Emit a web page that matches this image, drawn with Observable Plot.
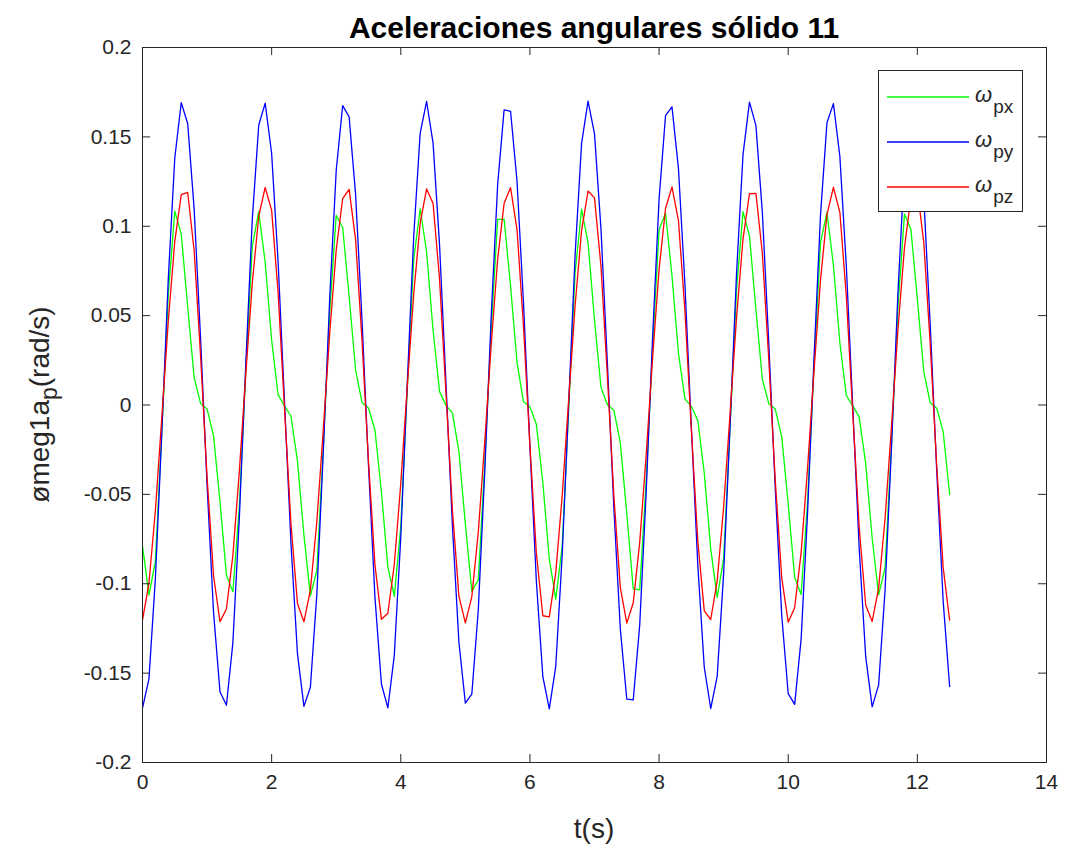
<!DOCTYPE html>
<html>
<head>
<meta charset="utf-8">
<script src="https://cdn.jsdelivr.net/npm/d3@7"></script>
<script src="https://cdn.jsdelivr.net/npm/@observablehq/plot@0.6"></script>
<style>
  html, body { margin: 0; padding: 0; background: #ffffff; }
  #chart svg { display: block; }
</style>
</head>
<body>
<div id="chart"></div>
<script>
// ---- data ----
const times = [0,0.1,0.2,0.3,0.4,0.5,0.6,0.7,0.8,0.9,1,1.1,1.2,1.3,1.4,1.5,1.6,1.7,1.8,1.9,2,2.1,2.2,2.3,2.4,2.5,2.6,2.7,2.8,2.9,3,3.1,3.2,3.3,3.4,3.5,3.6,3.7,3.8,3.9,4,4.1,4.2,4.3,4.4,4.5,4.6,4.7,4.8,4.9,5,5.1,5.2,5.3,5.4,5.5,5.6,5.7,5.8,5.9,6,6.1,6.2,6.3,6.4,6.5,6.6,6.7,6.8,6.9,7,7.1,7.2,7.3,7.4,7.5,7.6,7.7,7.8,7.9,8,8.1,8.2,8.3,8.4,8.5,8.6,8.7,8.8,8.9,9,9.1,9.2,9.3,9.4,9.5,9.6,9.7,9.8,9.9,10,10.1,10.2,10.3,10.4,10.5,10.6,10.7,10.8,10.9,11,11.1,11.2,11.3,11.4,11.5,11.6,11.7,11.8,11.9,12,12.1,12.2,12.3,12.4,12.5];

const omegaPx = [-0.0788,-0.1064,-0.0874,-0.0144,0.0621,0.1085,0.0956,
0.0548,0.0154,0.0008,-0.0022,-0.0172,-0.0540,-0.0952,-0.1044,-0.0568,0.0190,0.0888,0.1082,
0.0797,0.0362,0.0057,-0.0005,-0.0063,-0.0314,-0.0728,-0.1068,-0.0926,-0.0236,0.0523,0.1061,0.0993,
0.0607,0.0197,0.0013,-0.0017,-0.0140,-0.0487,-0.0907,-0.1070,-0.0680,0.0084,0.0814,0.1098,
0.0856,0.0418,0.0076,-0.0002,-0.0044,-0.0260,-0.0666,-0.1042,-0.0980,-0.0330,0.0424,0.1038,0.1040,
0.0665,0.0239,0.0019,-0.0011,-0.0108,-0.0434,-0.0862,-0.1086,-0.0791,-0.0022,0.0740,0.1095,0.0909,
0.0474,0.0100,0.0001,-0.0029,-0.0212,-0.0607,-0.1029,-0.1034,-0.0427,0.0324,0.0982,0.1072,
0.0723,0.0291,0.0034,-0.0008,-0.0086,-0.0381,-0.0805,-0.1078,-0.0859,-0.0119,0.0647,0.1081,0.0946,
0.0533,0.0143,0.0007,-0.0023,-0.0180,-0.0554,-0.0964,-0.1060,-0.0539,0.0218,0.0908,0.1078,
0.0782,0.0347,0.0052,-0.0005,-0.0068,-0.0328,-0.0744,-0.1062,-0.0912,-0.0212,0.0549,0.1068,0.0983,
0.0591,0.0185,0.0012,-0.0018,-0.0149,-0.0501];

const omegaPy = [-0.1696,-0.1532,-0.0968,-0.0147,0.0711,0.1382,0.1691,
0.1575,0.1096,0.0367,-0.0447,-0.1159,-0.1604,-0.1680,-0.1329,-0.0630,0.0234,0.1037,0.1565,
0.1689,0.1407,0.0801,0.0013,-0.0779,-0.1392,-0.1686,-0.1579,-0.1059,-0.0262,0.0603,0.1312,0.1675,
0.1612,0.1178,0.0473,-0.0340,-0.1076,-0.1561,-0.1694,-0.1399,-0.0738,0.0118,0.0941,0.1520,
0.1698,0.1465,0.0897,0.0122,-0.0679,-0.1326,-0.1668,-0.1618,-0.1148,-0.0377,0.0493,0.1232,0.1651,
0.1643,0.1253,0.0575,-0.0233,-0.0989,-0.1519,-0.1700,-0.1462,-0.0839,0.0002,0.0842,0.1464,0.1700,
0.1517,0.0987,0.0231,-0.0578,-0.1253,-0.1645,-0.1650,-0.1232,-0.0491,0.0380,0.1151,0.1619,
0.1668,0.1324,0.0677,-0.0125,-0.0898,-0.1467,-0.1698,-0.1518,-0.0942,-0.0115,0.0739,0.1401,0.1694,
0.1563,0.1074,0.0339,-0.0474,-0.1179,-0.1615,-0.1675,-0.1310,-0.0601,0.0265,0.1062,0.1579,
0.1686,0.1390,0.0776,-0.0016,-0.0804,-0.1408,-0.1689,-0.1567,-0.1035,-0.0232,0.0632,0.1330,0.1680,
0.1603,0.1156,0.0444,-0.0369,-0.1099,-0.1575];

const omegaPz = [-0.1203,-0.0996,-0.0589,-0.0064,0.0473,0.0915,0.1177,
0.1189,0.0863,0.0271,-0.0403,-0.0954,-0.1212,-0.1141,-0.0840,-0.0370,0.0174,0.0682,0.1056,
0.1217,0.1089,0.0630,-0.0023,-0.0669,-0.1110,-0.1213,-0.1036,-0.0652,-0.0137,0.0405,0.0866,0.1155,
0.1206,0.0925,0.0360,-0.0316,-0.0894,-0.1199,-0.1165,-0.0891,-0.0439,0.0101,0.0620,0.1017,
0.1209,0.1127,0.0706,0.0068,-0.0591,-0.1069,-0.1219,-0.1073,-0.0712,-0.0209,0.0336,0.0814,0.1128,
0.1216,0.0981,0.0444,-0.0228,-0.0831,-0.1179,-0.1185,-0.0939,-0.0507,0.0029,0.0558,0.0975,0.1197,
0.1159,0.0778,0.0158,-0.0509,-0.1022,-0.1220,-0.1106,-0.0770,-0.0281,0.0265,0.0758,0.1099,
0.1220,0.1032,0.0529,-0.0138,-0.0762,-0.1152,-0.1200,-0.0984,-0.0571,-0.0045,0.0491,0.0929,0.1182,
0.1184,0.0846,0.0248,-0.0426,-0.0969,-0.1215,-0.1134,-0.0826,-0.0352,0.0193,0.0699,0.1065,
0.1218,0.1078,0.0608,-0.0047,-0.0688,-0.1119,-0.1211,-0.1026,-0.0635,-0.0117,0.0424,0.0879,0.1160,
0.1202,0.0908,0.0336,-0.0340,-0.0910,-0.1204];

const seriesKeys = ["px", "py", "pz"];
const seriesColors = ["#00ff00", "#0000ff", "#ff0000"];
const xTicks = [0, 2, 4, 6, 8, 10, 12, 14];
const xTickLabels = ["0", "2", "4", "6", "8", "10", "12", "14"];
const yTicks = [-0.2, -0.15, -0.1, -0.05, 0, 0.05, 0.1, 0.15, 0.2];
const yTickLabels = ["-0.2", "-0.15", "-0.1", "-0.05", "0", "0.05", "0.1", "0.15", "0.2"];
const titleText = "Aceleraciones angulares sólido 11";
const xLabelText = "t(s)";

// ---- layout ----
const W = 1065, H = 852;
const mL = 142, mR = 19, mT = 47, mB = 90;
const plotW = W - mL - mR, plotH = H - mT - mB;
const tickLen = 8;
const axisColor = "#262626";
const font = "'Liberation Sans', Arial, Helvetica, sans-serif";

const seriesValues = [omegaPx, omegaPy, omegaPz];
const tables = seriesKeys.map((k, i) => times.map((t, j) => ({t, v: seriesValues[i][j], s: k})));

const chart = Plot.plot({
  width: W,
  height: H,
  marginLeft: mL,
  marginRight: mR,
  marginTop: mT,
  marginBottom: mB,
  style: {background: "#ffffff", fontFamily: font, color: axisColor},
  x: {domain: [0, 14]},
  y: {domain: [-0.2, 0.2]},
  color: {domain: seriesKeys, range: seriesColors},
  marks: [
    ...tables.map((tb, i) => Plot.line(tb, {x: "t", y: "v", stroke: seriesColors[i], strokeWidth: 1.3})),
    Plot.frame({stroke: axisColor, strokeWidth: 1}),
    // inward ticks on all four sides (MATLAB box style)
    Plot.tickX(xTicks, {x: d => d, stroke: axisColor, insetTop: plotH - tickLen}),
    Plot.tickX(xTicks, {x: d => d, stroke: axisColor, insetBottom: plotH - tickLen}),
    Plot.tickY(yTicks, {y: d => d, stroke: axisColor, insetRight: plotW - tickLen}),
    Plot.tickY(yTicks, {y: d => d, stroke: axisColor, insetLeft: plotW - tickLen}),
    Plot.axisX({ticks: xTicks, tickSize: 0, tickPadding: 12, fontSize: 21, label: null,
      tickFormat: d => xTickLabels[xTicks.indexOf(d)]}),
    Plot.axisY({ticks: yTicks, tickSize: 0, tickPadding: 11, fontSize: 21, label: null,
      tickFormat: d => yTickLabels[yTicks.findIndex(v => Math.abs(v - d) < 1e-9)]})
  ]
});

const svg = d3.select(chart);
svg.selectAll("g[aria-label='x-axis tick label'] text, g[aria-label='y-axis tick label'] text")
  .attr("fill", axisColor);

// title
svg.append("text")
  .attr("x", mL + plotW / 2).attr("y", 38)
  .attr("text-anchor", "middle")
  .attr("font-family", font).attr("font-weight", "bold").attr("font-size", 30)
  .attr("fill", "#000000")
  .text(titleText);

// x label
svg.append("text")
  .attr("x", mL + plotW / 2).attr("y", 838)
  .attr("text-anchor", "middle")
  .attr("font-family", font).attr("font-size", 28)
  .attr("fill", axisColor)
  .text(xLabelText);

// y label with subscript
const yl = svg.append("text")
  .attr("transform", `translate(49, ${mT + plotH / 2}) rotate(-90)`)
  .attr("text-anchor", "middle")
  .attr("font-family", font).attr("font-size", 28)
  .attr("fill", axisColor);
yl.append("tspan").text("ømeg1a");
yl.append("tspan").attr("dy", 8).attr("font-size", 23).text("p");
yl.append("tspan").attr("dy", -8).text("(rad/s)");

// legend
const lg = svg.append("g").attr("font-family", font).attr("text-anchor", "start");
const lgX = 878, lgY = 70, lgW = 144, lgH = 141;
lg.append("rect").attr("x", lgX + 0.5).attr("y", lgY + 0.5).attr("width", lgW).attr("height", lgH)
  .attr("fill", "#ffffff").attr("stroke", axisColor).attr("stroke-width", 1);
const entryY = [97, 142, 187];
seriesKeys.forEach((k, i) => {
  lg.append("line").attr("x1", 887).attr("x2", 969).attr("y1", entryY[i]).attr("y2", entryY[i])
    .attr("stroke", seriesColors[i]).attr("stroke-width", 1.3);
  const tx = lg.append("text").attr("x", 975).attr("y", entryY[i] + 5)
    .attr("text-anchor", "start").attr("font-size", 22).attr("fill", axisColor);
  tx.append("tspan").attr("font-style", "italic").text("ω");
  tx.append("tspan").attr("dy", 11).attr("dx", 1).attr("font-size", 19).text(k);
});

document.getElementById("chart").appendChild(chart);
</script>
</body>
</html>
